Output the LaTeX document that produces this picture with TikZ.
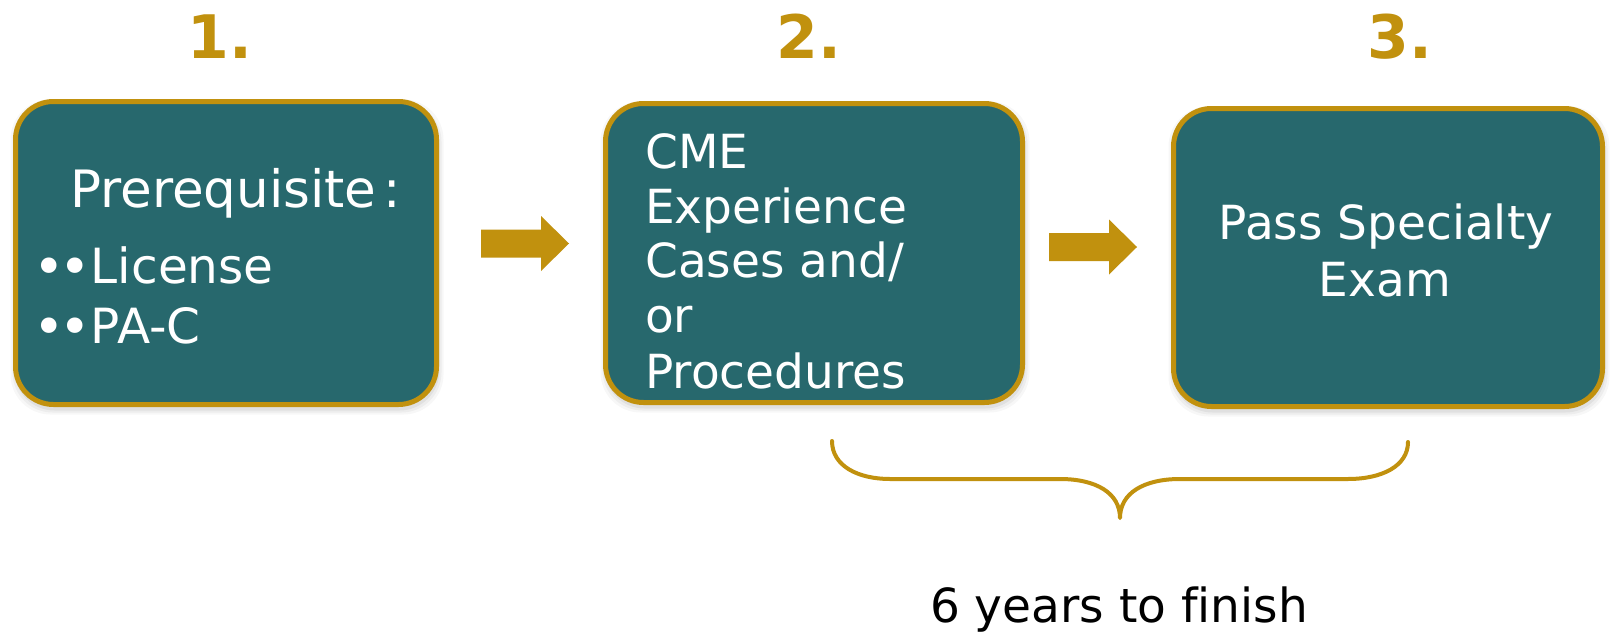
\documentclass[tikz,border=0pt]{standalone}
\usepackage{fontspec}
\setmainfont{DejaVu Sans}[Ligatures=NoCommon]
\definecolor{boxteal}{RGB}{39,104,109}
\definecolor{gold}{RGB}{193,145,14}
\newcommand{\bigbul}{\raisebox{-2.5pt}{\scalebox{1.1}{•}}}
\tikzset{
  stagebox/.style={draw=gold, line width=5pt, fill=boxteal, rounded corners=38pt,
    inner sep=0pt, shape=rectangle},
  boxtext/.style={text=white, inner sep=0pt, font=\fontsize{47}{55}\selectfont},
  boxtextA/.style={text=white, inner sep=0pt, font=\fontsize{48.5}{55}\selectfont},
  boxtextP/.style={text=white, inner sep=0pt, font=\fontsize{51.5}{55}\selectfont},
  stepnum/.style={text=gold, inner sep=0pt, font=\fontsize{60}{66}\bfseries\selectfont},
  blockarrow/.style={fill=gold, draw=none},
  bracestyle/.style={draw=gold, line width=4pt, line cap=round, line join=round},
}
\begin{document}
\begin{tikzpicture}[x=1pt, y=-1pt]
\useasboundingbox (0,0) rectangle (1612,634);
\fill[white] (0,0) rectangle (1612,634);

% soft shadows
\foreach \o/\op in {6/0.03,4/0.04,2/0.05}{
  \fill[black, opacity=\op, rounded corners=40pt] (15.5-\o+1,101.5-\o+4) rectangle (436.5+\o+1,404.5+\o+4);
  \fill[black, opacity=\op, rounded corners=40pt] (605.5-\o+1,103.5-\o+4) rectangle (1022.5+\o+1,402.5+\o+4);
  \fill[black, opacity=\op, rounded corners=40pt] (1173.5-\o+1,108.5-\o+4) rectangle (1602.5+\o+1,406.5+\o+4);
}

% step numbers
\node[stepnum, anchor=base] (n1) at (220,59) {1.};
\node[stepnum, anchor=base] (n2) at (809,59) {2.};
\node[stepnum, anchor=base] (n3) at (1400,59) {3.};

% boxes
\node[stagebox, minimum width=421pt, minimum height=303pt] (b1) at (226,253) {};
\node[stagebox, minimum width=417pt, minimum height=299pt] (b2) at (814,253) {};
\node[stagebox, minimum width=429pt, minimum height=298pt] (b3) at (1388,257.5) {};

% box 1 text
\node[boxtextP, anchor=base west] (t1a) at (70,207) {Prerequisite\kern7pt:};
\node[boxtextA, anchor=base west] (t1b) at (33.7,283) {\bigbul\kern-5.5pt\bigbul\kern-0.4pt License};
\node[boxtextA, anchor=base west] (t1c) at (33.7,343) {\bigbul\kern-5.5pt\bigbul\kern-0.4pt PA-C};

% box 2 text
\node[boxtext, anchor=base west] (t2a) at (645,168) {CME};
\node[boxtext, anchor=base west] (t2b) at (645,223) {Experience};
\node[boxtext, anchor=base west] (t2c) at (645,277) {Cases and/};
\node[boxtext, anchor=base west] (t2d) at (645,332) {or};
\node[boxtext, anchor=base west] (t2e) at (645,388) {Procedures};

% box 3 text
\node[boxtext, anchor=base] (t3a) at (1386,239) {Pass Specialty};
\node[boxtext, anchor=base] (t3b) at (1385,296) {Exam};

% block arrows
\coordinate (a1) at (481,243.5);
\coordinate (a2) at (1049,247);
\foreach \c in {a1,a2}{
  \fill[blockarrow] ([shift={(0,-14)}]\c) -- ([shift={(60,-14)}]\c) -- ([shift={(60,-27.5)}]\c)
    -- ([shift={(88,0)}]\c) -- ([shift={(60,27.5)}]\c) -- ([shift={(60,14)}]\c)
    -- ([shift={(0,14)}]\c) -- cycle;
}

% brace
\coordinate (bl) at (832,441);
\coordinate (br) at (1408,442);
\coordinate (bt) at (1120,518);
\draw[bracestyle] (bl) .. controls (832,466) and (858,479) .. (890,479)
  -- (1060,479) .. controls (1096,479) and (1120,493) .. (bt)
  .. controls (1120,493) and (1144,479) .. (1180,479)
  -- (1348,479) .. controls (1382,479) and (1408,466) .. (br);

% bottom label
\node[inner sep=0pt, anchor=base, font=\fontsize{47}{55}\selectfont] (lbl) at (1119,622) {6 years to finish};
\end{tikzpicture}
\end{document}
